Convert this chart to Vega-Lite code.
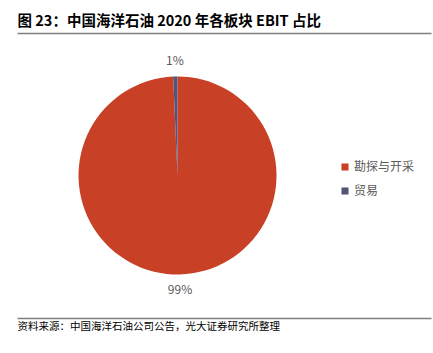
{
  "$schema": "https://vega.github.io/schema/vega-lite/v6.json",
  "autosize": {"type": "none"},
  "padding": {"left": 17, "top": 33, "right": 2, "bottom": 35},
  "width": 414,
  "height": 285,
  "background": "white",
  "config": {
    "view": {"stroke": null},
    "font": "Noto Sans CJK SC"
  },
  "data": {
    "values": [
      {"segment": "勘探与开采", "value": 99.3, "label": "99%"},
      {"segment": "贸易", "value": 0.7, "label": "1%"}
    ]
  },
  "layer": [
    {
      "mark": {"type": "arc", "radius": 99},
      "encoding": {
        "x": {
          "datum": 0.3877,
          "type": "quantitative",
          "scale": {"domain": [0, 1]},
          "axis": {
            "orient": "top",
            "domain": true,
            "domainColor": "#7f7f7f",
            "domainWidth": 1.5,
            "ticks": false,
            "labels": false,
            "grid": false,
            "title": "图 23：中国海洋石油 2020 年各板块 EBIT 占比",
            "titleAnchor": "start",
            "titleAlign": "left",
            "titleFontSize": 14.5,
            "titleFontWeight": "bold",
            "titleColor": "#000000",
            "titlePadding": 5
          }
        },
        "theta": {"field": "value", "type": "quantitative", "stack": true},
        "order": {"field": "value", "sort": "descending"},
        "color": {
          "field": "segment",
          "type": "nominal",
          "scale": {"domain": ["勘探与开采", "贸易"], "range": ["#C84127", "#535577"]},
          "legend": {
            "orient": "none",
            "legendX": 322,
            "legendY": 128,
            "title": null,
            "symbolType": "square",
            "symbolSize": 50,
            "symbolStrokeWidth": 0,
            "labelFontSize": 12,
            "labelColor": "#595959",
            "labelOffset": 3,
            "rowPadding": 12
          }
        }
      }
    },
    {
      "mark": {"type": "text", "radius": 115, "fontSize": 12, "color": "#595959", "baseline": "middle", "align": "center"},
      "encoding": {
        "x": {
          "datum": 0.3877,
          "type": "quantitative",
          "scale": {"domain": [0, 1]},
          "axis": {
            "orient": "bottom",
            "domain": true,
            "domainColor": "#7f7f7f",
            "domainWidth": 1.5,
            "ticks": false,
            "labels": false,
            "grid": false,
            "title": "资料来源：中国海洋石油公司公告，光大证券研究所整理",
            "titleAnchor": "start",
            "titleAlign": "left",
            "titleFontSize": 10.5,
            "titleFontWeight": "normal",
            "titleColor": "#000000",
            "titlePadding": 3
          }
        },
        "theta": {"field": "value", "type": "quantitative", "stack": true},
        "order": {"field": "value", "sort": "descending"},
        "text": {"field": "label", "type": "nominal"}
      }
    }
  ],
  "resolve": {"scale": {"x": "independent"}, "axis": {"x": "independent"}}
}
